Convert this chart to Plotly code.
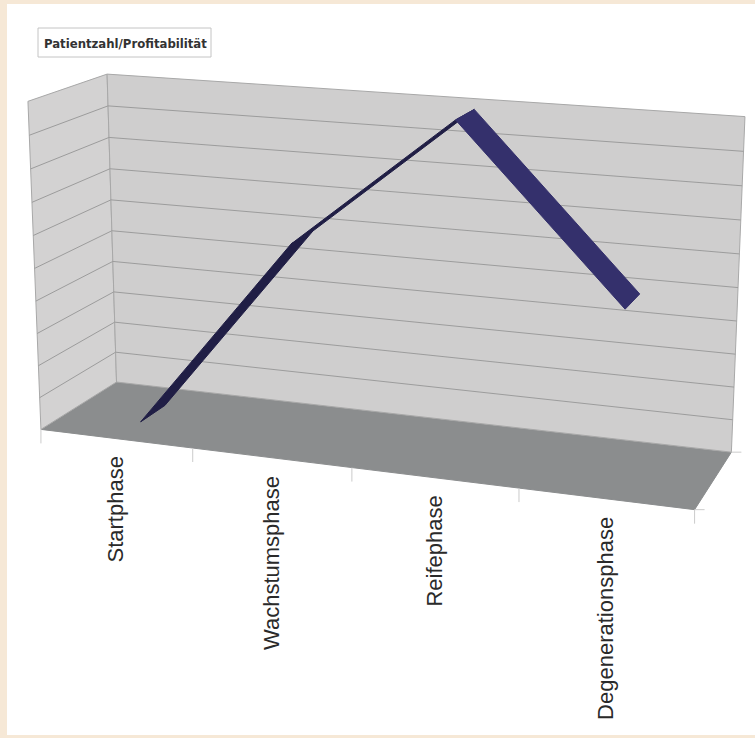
import numpy as np
import plotly.graph_objects as go

# ---- chart data -------------------------------------------------------------
phases = ["Startphase", "Wachstumsphase", "Reifephase", "Degenerationsphase"]
values = [0, 60, 100, 50]
y_max = 100
y_step = 10
chart_title = "Patientzahl/Profitabilität"

# ---- page / colours ----------------------------------------------------------
W, H = 755, 738
BEIGE = "#F6E8D6"
WALL = "#CFCECE"
SIDE_WALL = "#D3D2D2"
FLOOR = "#8B8D8E"
GRID = "#9C9C9C"
EDGE = "#A8A8A8"
TICK = "#CBCBCB"
RIBBON_TOP = "#34306C"
RIBBON_UNDER = "#201E45"

# ---- 3D box -> screen projection ---------------------------------------------
# world: X across the categories (0..1), Y value (0..1), Z depth (0 front .. 1 back)
# screen anchors for the corners of the chart box (calibrate a pinhole camera)
box_anchors = [
    ((0.00, 0, 1), (116, 381)),
    ((0.00, 1, 1), (107, 75)),
    ((1.00, 1, 1), (745, 117)),
    ((1.00, 0, 1), (732, 452)),
    ((0.00, 0, 0), (42, 430)),
    ((0.00, 1, 0), (28, 100)),
    ((1.00, 0, 0), (695, 508)),
    ((0.25, 0, 0), (192, 448)),
    ((0.50, 0, 0), (353, 469)),
    ((0.75, 0, 0), (517, 489)),
]


def fit_camera(anchors):
    pts = np.array([a[1] for a in anchors], float)
    c = pts.mean(axis=0)
    s = np.sqrt(2) / np.mean(np.linalg.norm(pts - c, axis=1))
    T = np.array([[s, 0, -s * c[0]], [0, s, -s * c[1]], [0, 0, 1]])
    rows = []
    for (X, Y, Z), (u, v) in anchors:
        u, v, _ = T @ np.array([u, v, 1.0])
        rows.append([X, Y, Z, 1, 0, 0, 0, 0, -u * X, -u * Y, -u * Z, -u])
        rows.append([0, 0, 0, 0, X, Y, Z, 1, -v * X, -v * Y, -v * Z, -v])
    _, _, vt = np.linalg.svd(np.array(rows, float))
    P = vt[-1].reshape(3, 4)
    return np.linalg.inv(T) @ P


CAM = fit_camera(box_anchors)


def proj(X, Y, Z):
    p = CAM @ np.array([X, Y, Z, 1.0])
    return p[0] / p[2], p[1] / p[2]


def poly(corners):
    xy = [proj(*c) for c in corners]
    xs = [p[0] for p in xy] + [xy[0][0]]
    ys = [p[1] for p in xy] + [xy[0][1]]
    return xs, ys


def line(a, b):
    (x0, y0), (x1, y1) = proj(*a), proj(*b)
    return [x0, x1, None], [y0, y1, None]


fig = go.Figure()

# floor and walls
for corners, fillc, edgec in [
    ([(0, 0, 0), (1, 0, 0), (1, 0, 1), (0, 0, 1)], FLOOR, FLOOR),
    ([(0, 0, 0), (0, 1, 0), (0, 1, 1), (0, 0, 1)], SIDE_WALL, EDGE),
    ([(0, 0, 1), (1, 0, 1), (1, 1, 1), (0, 1, 1)], WALL, EDGE),
]:
    xs, ys = poly(corners)
    fig.add_trace(go.Scatter(x=xs, y=ys, mode="lines", fill="toself",
                             fillcolor=fillc, line=dict(color=edgec, width=1),
                             hoverinfo="skip", showlegend=False))

# value gridlines on back and side wall
gx, gy = [], []
for k in range(1, int(y_max / y_step)):
    yv = k * y_step / y_max
    for a, b in [((0, yv, 1), (1, yv, 1)), ((0, yv, 0), (0, yv, 1))]:
        lx, ly = line(a, b)
        gx += lx
        gy += ly
fig.add_trace(go.Scatter(x=gx, y=gy, mode="lines", line=dict(color=GRID, width=1),
                         hoverinfo="skip", showlegend=False))

# category tick marks below the front edge of the floor
n = len(phases)
tx, ty = [], []
for k in range(n + 1):
    x0, y0 = proj(k / n, 0, 0)
    tx += [x0, x0, None]
    ty += [y0, y0 + 14, None]
for z in (0, 1):
    x0, y0 = proj(1, 0, z)
    tx += [x0, x0 + 10, None]
    ty += [y0, y0, None]
fig.add_trace(go.Scatter(x=tx, y=ty, mode="lines", line=dict(color=TICK, width=1),
                         hoverinfo="skip", showlegend=False))

# the series ribbon: upper face where it falls, darker underside where it rises
z_front, z_back = 0.33, 0.67
cx = [(i + 0.5) / n for i in range(n)]
cy = [v / y_max for v in values]
for i in range(n - 1):
    corners = [(cx[i], cy[i], z_front), (cx[i + 1], cy[i + 1], z_front),
               (cx[i + 1], cy[i + 1], z_back), (cx[i], cy[i], z_back)]
    xs, ys = poly(corners)
    area = sum(xs[j] * ys[j + 1] - xs[j + 1] * ys[j] for j in range(4))
    col = RIBBON_UNDER if area > 0 else RIBBON_TOP
    fig.add_trace(go.Scatter(x=xs, y=ys, mode="lines", fill="toself",
                             fillcolor=col, line=dict(color=col, width=1),
                             hoverinfo="skip", showlegend=False))

# category labels, rotated, hanging below the floor
for i, name in enumerate(phases):
    x0, y0 = proj(cx[i], 0, 0)
    fig.add_annotation(x=x0, y=y0 + 16, text=name, textangle=-90, showarrow=False,
                       xanchor="center", yanchor="top",
                       font=dict(family="Liberation Sans, Arial, sans-serif",
                                 size=22, color="#2a2a2a"))

# title box
fig.add_shape(type="rect", x0=38, y0=28, x1=211, y1=57,
              line=dict(color="#C4C4C4", width=1), fillcolor="white", layer="above")
fig.add_annotation(x=125, y=43, text="<b>" + chart_title + "</b>", showarrow=False,
                   xanchor="center", yanchor="middle",
                   font=dict(family="Liberation Sans Narrow, DejaVu Sans Condensed, Liberation Sans, sans-serif",
                             size=13, color="#333333"))

# white page inside a beige frame
fig.add_shape(type="rect", x0=7, y0=4, x1=W + 5, y1=735, line=dict(width=0),
              fillcolor="white", layer="below")

fig.update_layout(
    width=W, height=H, margin=dict(l=0, r=0, t=0, b=0),
    paper_bgcolor=BEIGE, plot_bgcolor=BEIGE,
    xaxis=dict(range=[0, W], visible=False, fixedrange=True),
    yaxis=dict(range=[H, 0], visible=False, fixedrange=True),
    showlegend=False,
)

fig.write_html("out.html")
